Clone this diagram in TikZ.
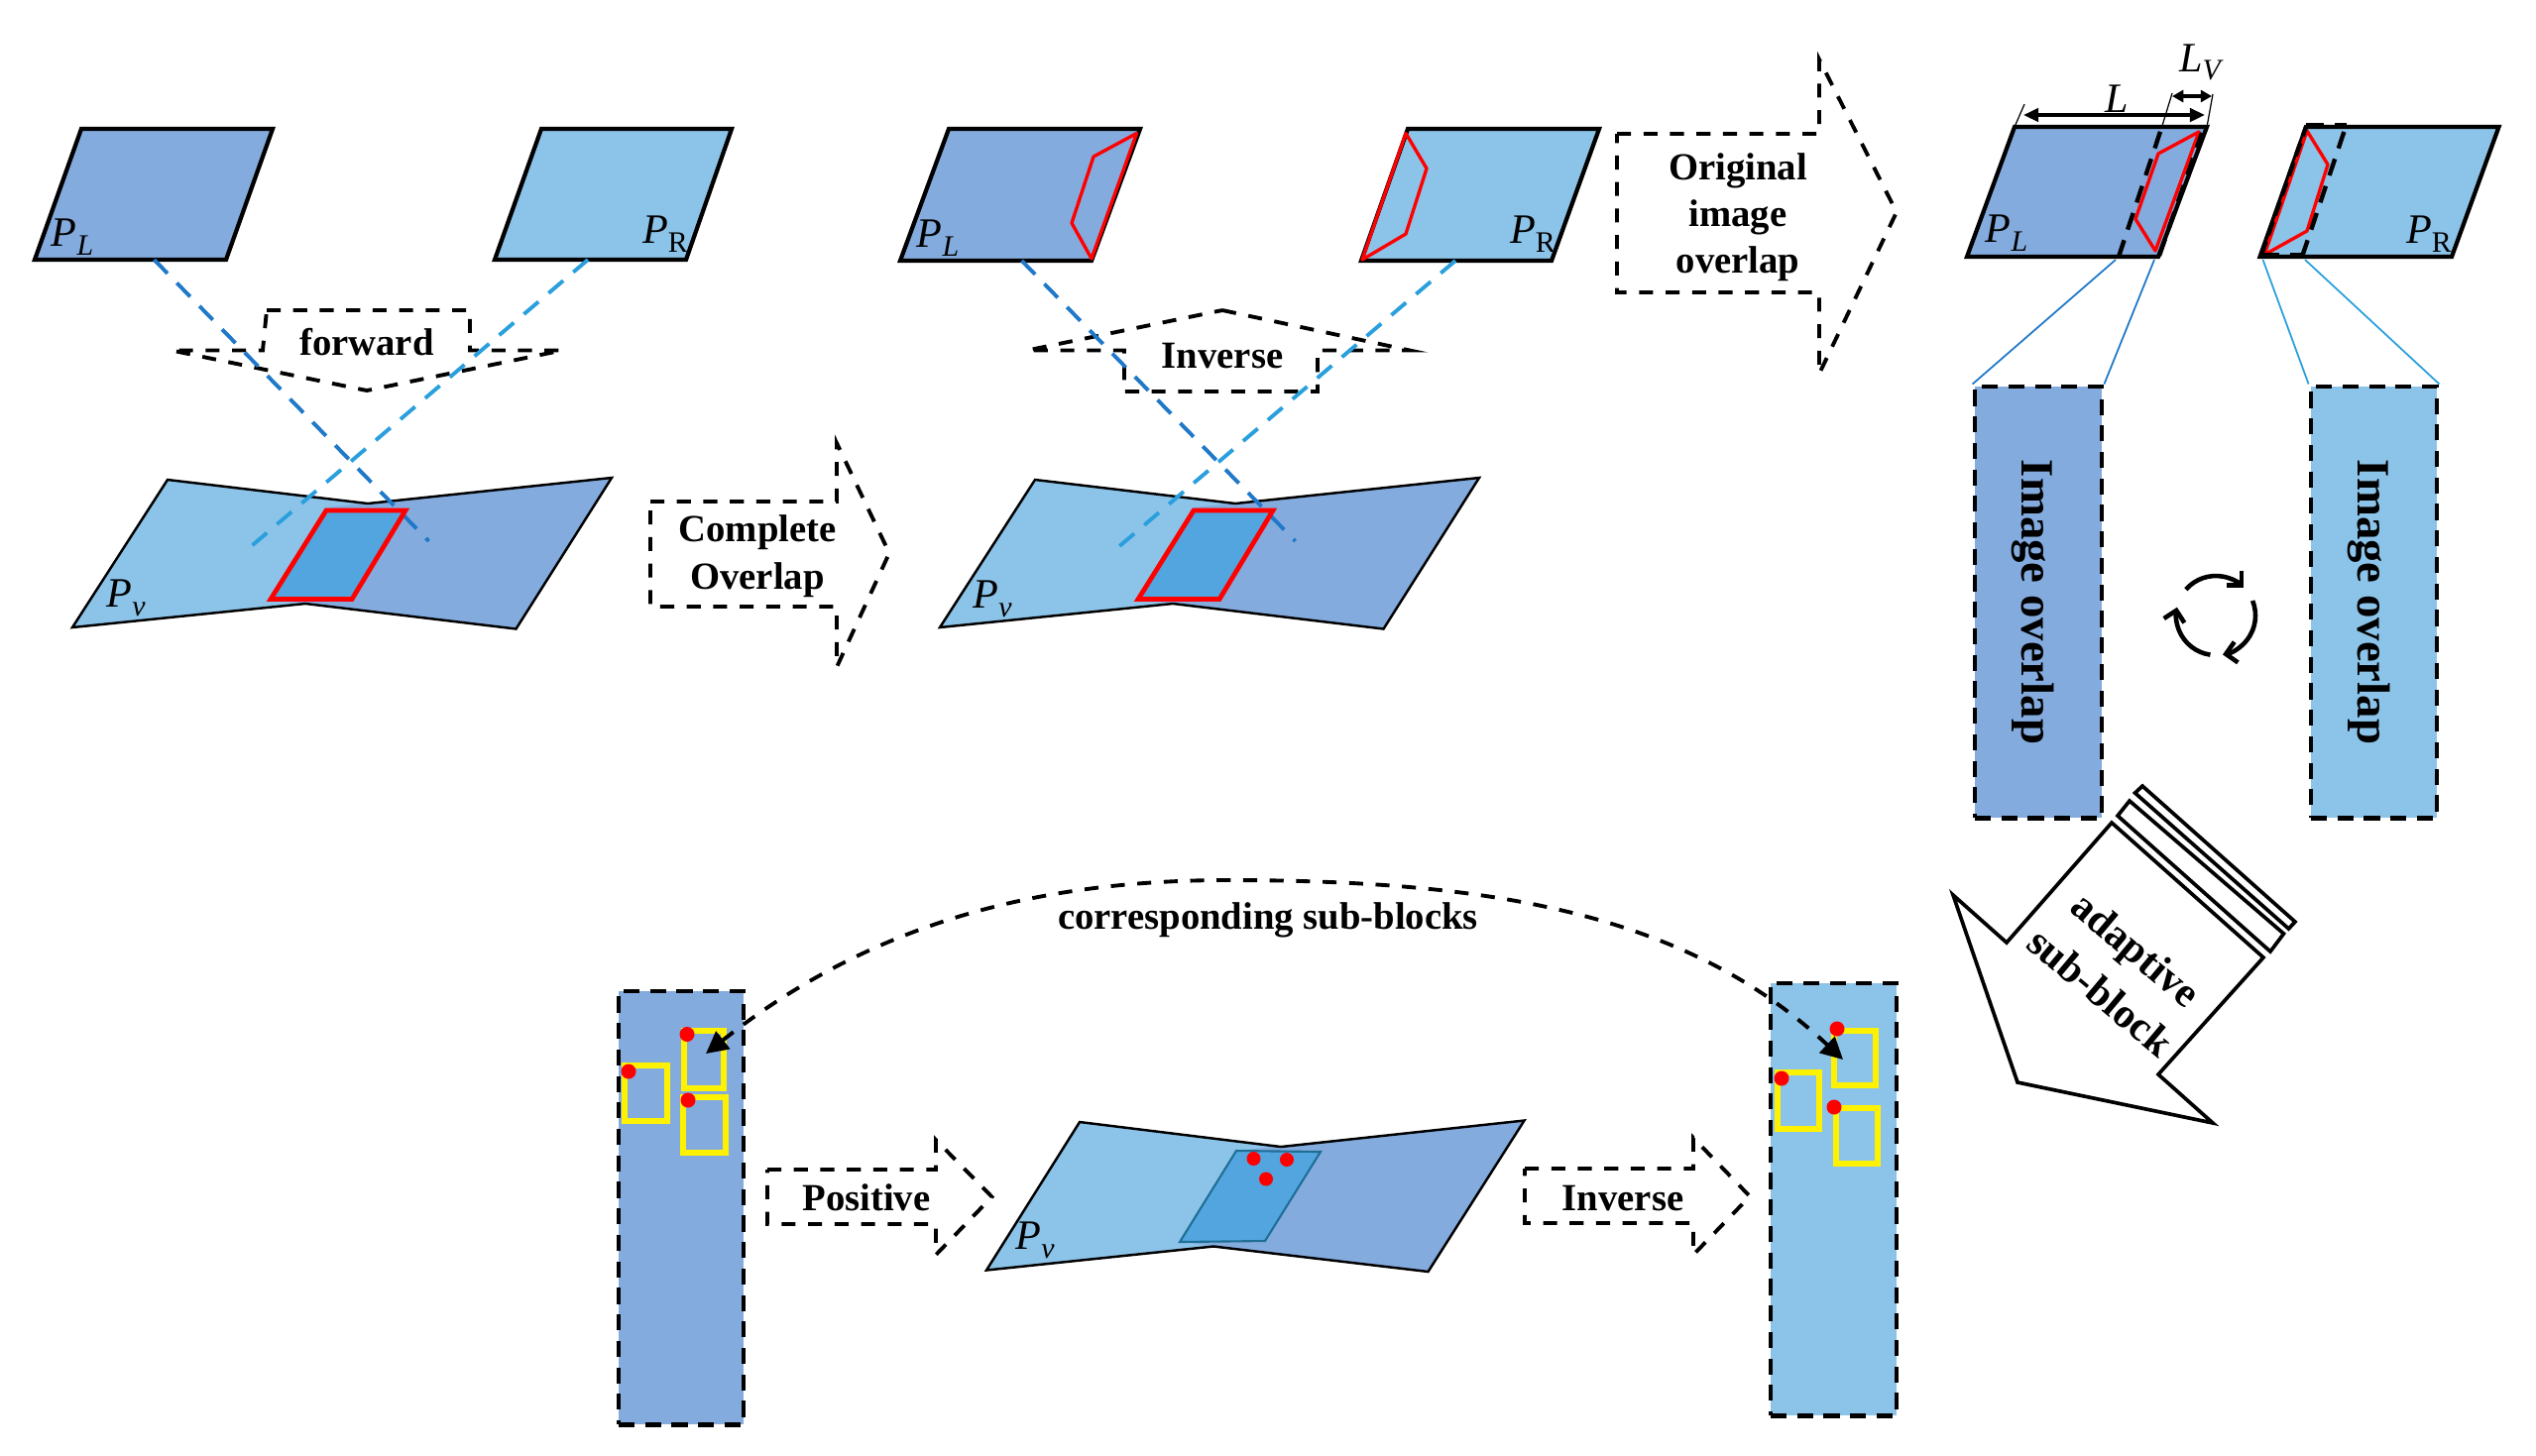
\documentclass[tikz,border=0pt]{standalone}
\usepackage{fontspec}
\setmainfont{Liberation Serif}
\usetikzlibrary{arrows.meta}
\definecolor{bluedark}{HTML}{84ABDE}
\definecolor{bluelight}{HTML}{8CC3E8}
\definecolor{blueboth}{HTML}{52A5DF}
\definecolor{rayL}{HTML}{1F78C8}
\definecolor{rayR}{HTML}{2A9FDD}
\definecolor{tealedge}{HTML}{1F6E96}
\newcommand{\BL}{\fontsize{11}{13}\selectfont\bfseries}
\newcommand{\BLL}{\fontsize{13.3}{15}\selectfont\bfseries}
\newcommand{\BLA}{\fontsize{12}{14.6}\selectfont\bfseries}
\newcommand{\PSub}[2]{\fontsize{12}{13}\selectfont\itshape #1\raisebox{-0.45ex}{\fontsize{8.5}{9}\selectfont #2}}
\tikzset{
  x=0.01cm,y=-0.01cm,
  plane/.style={line width=1.2pt,line join=miter},
  planeL/.style={plane,draw=black,fill=bluedark},
  planeR/.style={plane,draw=black,fill=bluelight},
  fillL/.style={fill=bluedark},
  fillR/.style={fill=bluelight},
  bowedge/.style={draw=black,line width=0.7pt,line join=miter},
  overlapred/.style={draw=red,fill=blueboth,line width=1.35pt,line join=miter},
  overlapteal/.style={draw=tealedge,fill=blueboth,line width=0.6pt},
  footprint/.style={draw=red,line width=0.95pt,line join=round},
  rayleft/.style={draw=rayL,line width=1.1pt,dash pattern=on 5.5pt off 3.8pt},
  rayright/.style={draw=rayR,line width=1.1pt,dash pattern=on 5.5pt off 3.8pt},
  zoomL/.style={draw=rayL,line width=0.5pt},
  zoomR/.style={draw=rayR,line width=0.5pt},
  dasharrow/.style={draw=black,line width=1.1pt,dash pattern=on 4pt off 3.6pt,line join=miter},
  edgedash/.style={draw=black,line width=1.25pt,dash pattern=on 5pt off 3.2pt},
  stripbox/.style={draw=black,line width=1.35pt,dash pattern=on 4.6pt off 3pt,inner sep=0pt},
  lab/.style={inner sep=0pt,align=center,text=black},
  thinline/.style={draw=black,line width=0.35pt},
  dimarrow/.style={draw=black,line width=1pt,{Triangle[length=4.3pt,width=3.8pt]}-{Triangle[length=4.3pt,width=3.8pt]}},
  dimarrowB/.style={draw=black,line width=1.1pt,{Triangle[length=3.2pt,width=3.4pt]}-{Triangle[length=3.2pt,width=3.4pt]}},
  cyclearc/.style={draw=black,line width=1.3pt,-{Straight Barb[length=3pt,width=6pt]}},
  subbox/.style={draw=yellow,line width=1.5pt,line join=miter},
  reddot/.style={fill=red},
  whitearrow/.style={draw=black,fill=white,line width=1.05pt,line join=miter},
  linkarrow/.style={draw=black,line width=1.1pt,dash pattern=on 4pt off 3.6pt,{Triangle[length=6.3pt,width=6.3pt]}-{Triangle[length=6.3pt,width=6.3pt]}}
}
\newcommand{\BowBase}{%
  \fill[fillR] (169,484)--(409,513)--(355,604)--(73,633)--cycle;
  \fill[fillL] (617,482)--(329,512)--(273,605)--(520.5,634.5)--cycle;
  \draw[bowedge] (169,484)--(371,508)--(617,482)--(520.5,634.5)--(308,609)--(73,633)--cycle;
}
\newcommand{\BowOverlap}{%
  \draw[overlapred] (329,515)--(409,515)--(355,604.5)--(273,604.5)--cycle;
}
\begin{document}
\begin{tikzpicture}
\useasboundingbox (0,0) rectangle (2558,1468);

% ---------- column 1 ----------
\draw[planeL] (82,130)--(275,130)--(228,262)--(35,262)--cycle;
\draw[planeR] (546,130)--(738,130)--(692,262)--(499,262)--cycle;
\node[lab] (labPL1) at (73,239) {\PSub{P}{L}};
\node[lab] (labPR1) at (671,236) {\PSub{P}{\upshape R}};
\BowBase
\coordinate (rayA1) at (155.5,262); \coordinate (rayA2) at (432.5,546);
\coordinate (rayB1) at (593,262);   \coordinate (rayB2) at (253.5,551);
\draw[dasharrow] (269,313)--(474,313)--(474,353.5)--(567,353.5)--(370,394)--(173,353.5)--(265,353.5)--cycle;
\draw[rayleft] (rayA1)--(rayA2);
\draw[rayright] (rayB1)--(rayB2);
\BowOverlap
\node[lab] (labV1) at (127,603) {\PSub{P}{v}};
\node[lab] (txtForward) at (370,345) {\BL forward};
\draw[dasharrow] (656,506)--(844,506)--(844,447)--(897,558)--(844,673)--(844,612)--(656,612)--cycle;
\node[lab] (txtComplete) at (764,561) {\BL Complete\\[1.6pt]\BL Overlap};

% ---------- column 2 ----------
\draw[planeL] (957,130)--(1150,130)--(1101,263)--(908,263)--cycle;
\draw[footprint] (1146.5,134.5)--(1103,158)--(1081,225)--(1101,261)--cycle;
\draw[planeR] (1420,130)--(1613,130)--(1565,263)--(1373,263)--cycle;
\draw[footprint] (1418,134.5)--(1439,170)--(1418,236)--(1374,262)--cycle;
\node[lab] (labPL2) at (946,240) {\PSub{P}{L}};
\node[lab] (labPR2) at (1546,236) {\PSub{P}{\upshape R}};
\begin{scope}[xshift=8.745cm]
\BowBase
\end{scope}
\coordinate (rayC1) at (1030.6,263); \coordinate (rayC2) at (1306.6,546);
\coordinate (rayD1) at (1468,263);   \coordinate (rayD2) at (1128,552);
\draw[dasharrow] (1233,313)--(1422,353.5)--(1329,353.5)--(1329,395)--(1134,395)--(1134,353.5)--(1036,353.5)--cycle;
\draw[rayleft] (rayC1)--(rayC2);
\draw[rayright] (rayD1)--(rayD2);
\begin{scope}[xshift=8.745cm]
\BowOverlap
\end{scope}
\node[lab] (labV2) at (1001,604) {\PSub{P}{v}};
\node[lab] (txtInverseTop) at (1233,359) {\BL Inverse};
\draw[dasharrow] (1631,135)--(1835,135)--(1835,60)--(1913,214)--(1835,377)--(1835,295)--(1631,295)--cycle;
\node[lab] (txtOriginal) at (1753,219) {\BL Original\\[1.4pt]\BL image\\[1.4pt]\BL overlap};

% ---------- column 3 ----------
\draw[planeL] (2032,128)--(2226,128)--(2177,259)--(1984,259)--cycle;
\draw[footprint] (2218,133)--(2177,155)--(2154,221)--(2174,253)--cycle;
\draw[edgedash] (2137,259)--(2180.6,128);
\draw[edgedash] (2178,258)--(2221,134);
\draw[planeR] (2326,128)--(2520.5,128)--(2473,259)--(2279.5,259)--cycle;
\draw[footprint] (2327,132)--(2348,166)--(2327,233)--(2284,257)--cycle;
\draw[edgedash] (2322,259)--(2367,125);
\draw[edgedash] (2326,126)--(2367,126);
\draw[edgedash] (2281,257)--(2322,257);
\draw[edgedash,dash pattern=on 4pt off 2pt] (2281,257)--(2326,128);
\draw[thinline] (2032,128)--(2042,105);
\draw[thinline] (2180.6,128)--(2191,94);
\draw[thinline] (2226,128)--(2232,95);
\draw[dimarrow] (2041,116)--(2224,116);
\draw[dimarrowB] (2191,97)--(2231,97);
\node[lab] (labLen) at (2135,100) {\fontsize{12}{13}\selectfont\itshape L};
\node[lab] (labLenV) at (2219,63) {\PSub{L}{V}};
\node[lab] (labPL3) at (2024,235) {\PSub{P}{L}};
\node[lab] (labPR3) at (2450,236) {\PSub{P}{\upshape R}};

\node[stripbox,fill=bluedark,minimum width=1.28cm,minimum height=4.35cm] (ovL) at (2056,607.5) {};
\node[stripbox,fill=bluelight,minimum width=1.27cm,minimum height=4.35cm] (ovR) at (2394.5,607.5) {};
\node[lab,rotate=-90] (txtOvL) at (2051,607.5) {\BLL Image overlap};
\node[lab,rotate=-90] (txtOvR) at (2389.5,607.5) {\BLL Image overlap};
\coordinate (zA) at (2134,262); \coordinate (zB) at (2173,262);
\coordinate (zC) at (2282.5,262); \coordinate (zD) at (2325,262);
\draw[zoomL] (zA)--(ovL.north west);
\draw[zoomL] (zB)--(ovL.north east);
\draw[zoomR] (zC)--(ovR.north west);
\draw[zoomR] (zD)--(ovR.north east);

\draw[cyclearc] (2235,621) ++(139:40 and -40) arc[start angle=-139,end angle=-45,radius=40];
\draw[cyclearc] (2235,621) ++(22:40 and -40) arc[start angle=-22,end angle=80,radius=40];
\draw[cyclearc] (2235,621) ++(-98:40 and -40) arc[start angle=98,end angle=192,radius=40];

\draw[whitearrow] (2130,830)--(2283,966)--(2177,1084)--(2232,1133)--(2035,1092)--(1970,903)--(2024,951)--cycle;
\draw[whitearrow] (2136,823)--(2148,808)--(2303.5,942)--(2290,960)--cycle;
\draw[whitearrow] (2153.5,800)--(2161,793)--(2315,930)--(2308.5,937)--cycle;
\node[lab,rotate=-40] (txtAdaptive) at (2137,979) {\BLA adaptive\\[4pt]\BLA sub-block};

% ---------- bottom row ----------
\node[stripbox,fill=bluedark,minimum width=1.26cm,minimum height=4.37cm] (stripA) at (687,1218.5) {};
\node[stripbox,fill=bluelight,minimum width=1.27cm,minimum height=4.36cm] (stripB) at (1849.5,1210) {};
\draw[subbox] (630,1075) rectangle (673,1131);
\draw[subbox] (690,1040) rectangle (730,1098);
\draw[subbox] (689,1107) rectangle (732,1163);
\draw[subbox] (1793,1082) rectangle (1835,1139);
\draw[subbox] (1850,1040) rectangle (1892,1095);
\draw[subbox] (1852,1118) rectangle (1894,1174);
\fill[reddot] (634,1081) circle (7.5);
\fill[reddot] (693,1043.5) circle (7.5);
\fill[reddot] (694,1110) circle (7.5);
\fill[reddot] (1797,1088) circle (7.5);
\fill[reddot] (1853,1038) circle (7.5);
\fill[reddot] (1850,1117) circle (7.5);
\coordinate (linkA) at (712,1063);
\coordinate (linkTop) at (1238,888);
\coordinate (linkB) at (1859,1069);
\draw[linkarrow] (linkA) .. controls (880,930) and (1050,888) .. (linkTop) .. controls (1500,888) and (1700,920) .. (linkB);
\node[lab] (txtCorr) at (1279,928) {\BL corresponding sub-blocks};

\fill[fillR] (1089,1132)--(1332,1162)--(1276,1252)--(995,1281.5)--cycle;
\fill[fillL] (1537.5,1130.5)--(1247,1161)--(1190,1253)--(1440.5,1283)--cycle;
\draw[bowedge] (1089,1132)--(1292,1157)--(1537.5,1130.5)--(1440.5,1283)--(1224,1257.5)--(995,1281.5)--cycle;
\draw[overlapteal] (1247,1161)--(1332,1162)--(1276,1252)--(1190,1253)--cycle;
\fill[reddot] (1264.5,1169) circle (7);
\fill[reddot] (1298,1170) circle (7);
\fill[reddot] (1277,1189.5) circle (7);
\node[lab] (labV3) at (1044,1251) {\PSub{P}{v}};

\draw[dasharrow] (774,1180)--(944,1180)--(944,1150)--(1000.5,1207.5)--(944,1266)--(944,1235)--(774,1235)--cycle;
\node[lab] (txtPositive) at (874,1208) {\BL Positive};
\draw[dasharrow] (1538,1179)--(1708,1179)--(1708,1148)--(1765,1207)--(1708,1266)--(1708,1234)--(1538,1234)--cycle;
\node[lab] (txtInverseB) at (1637,1209) {\BL Inverse};
\end{tikzpicture}
\end{document}
